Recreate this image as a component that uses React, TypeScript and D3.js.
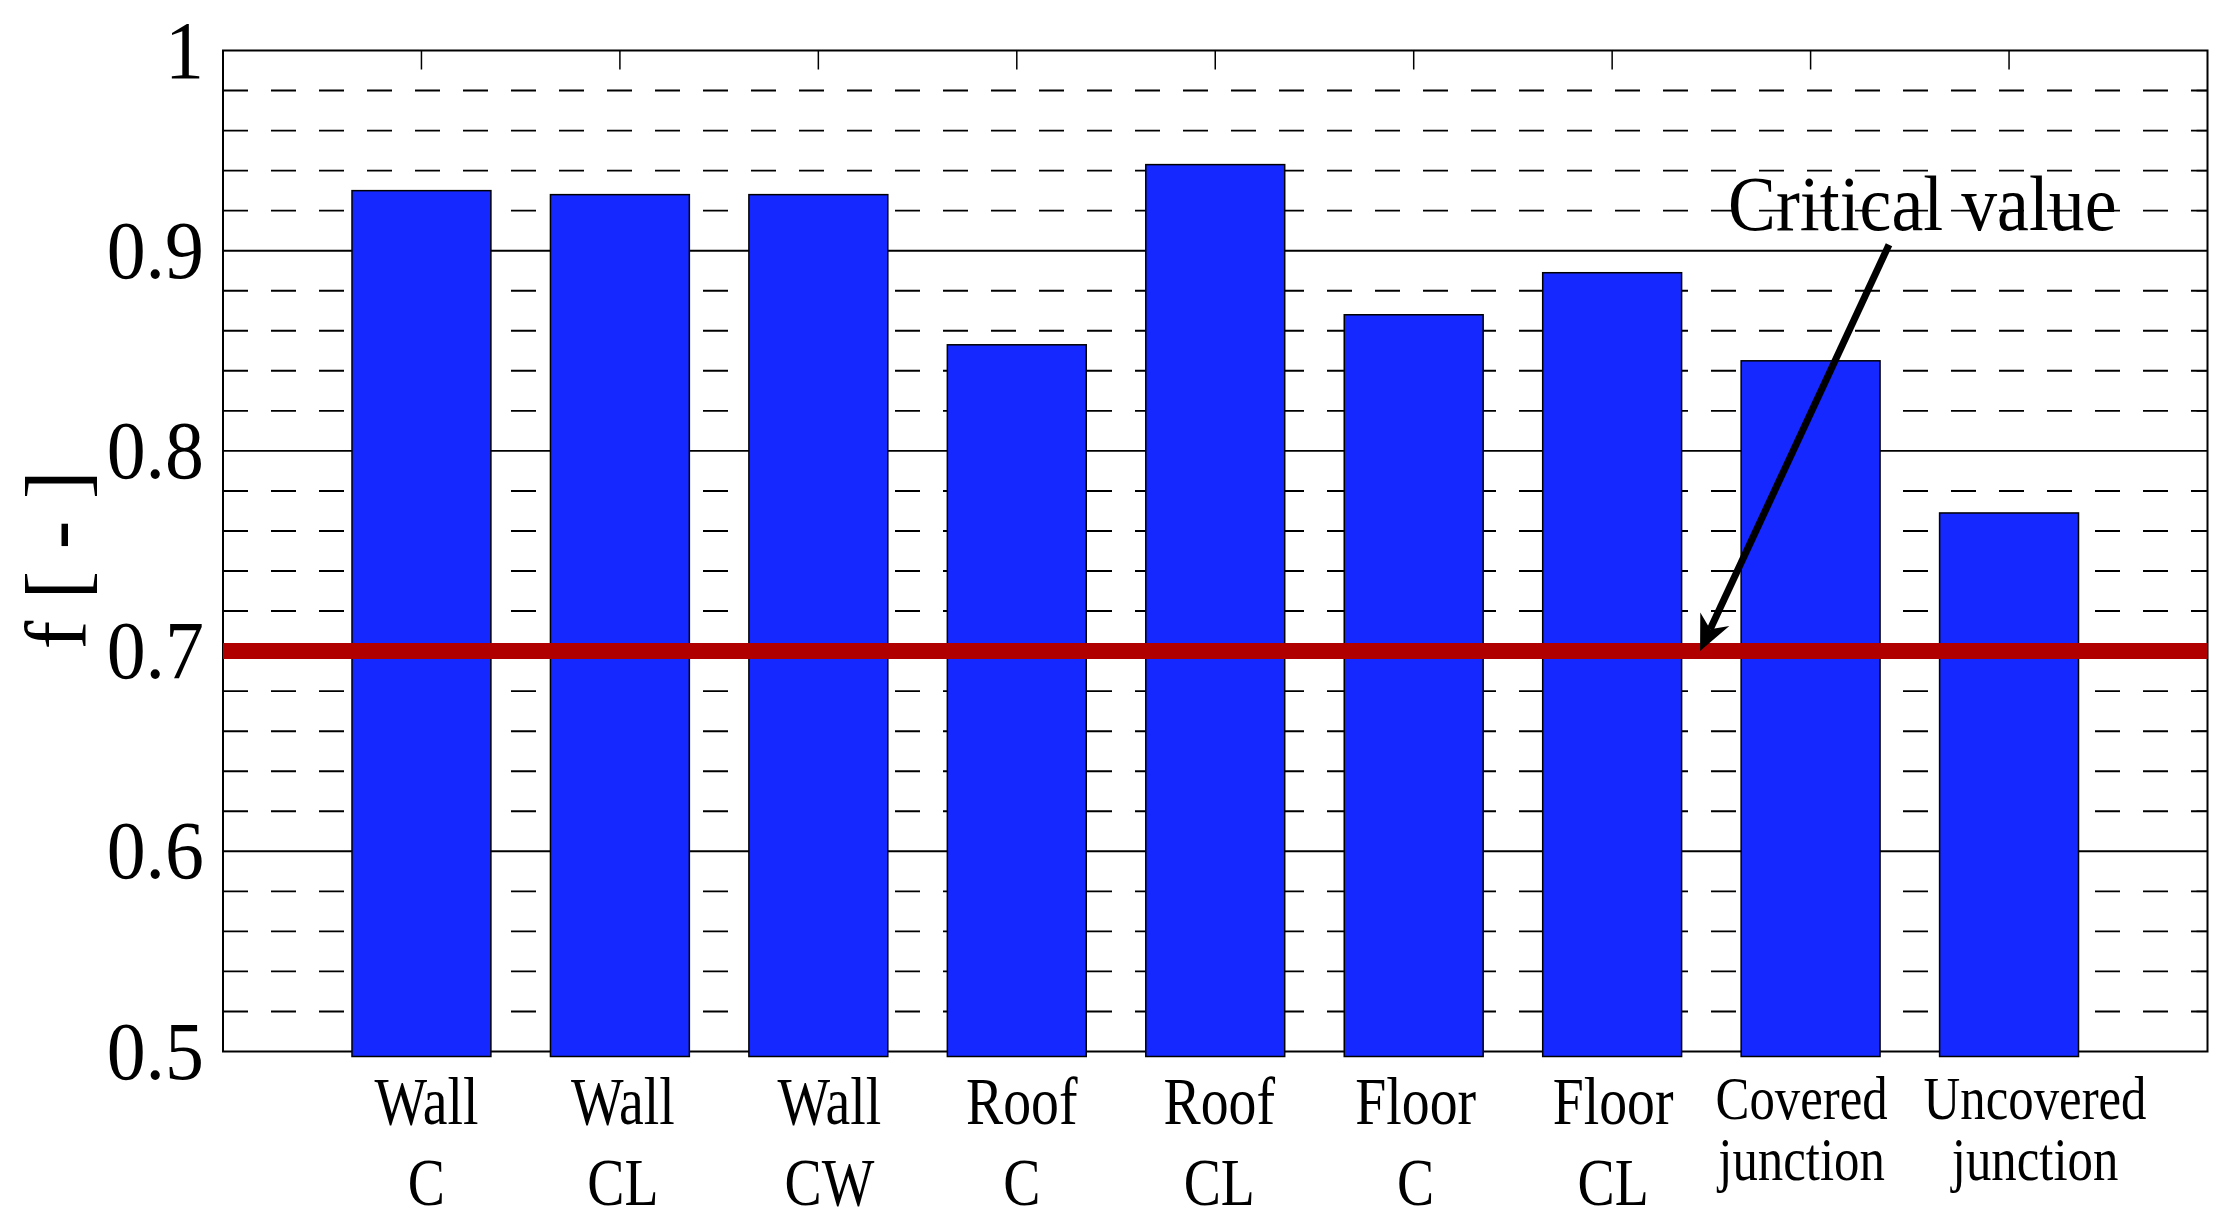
import React from "react";
import * as d3 from "d3";

// data
const categories = [
  ["Wall", "C"],
  ["Wall", "CL"],
  ["Wall", "CW"],
  ["Roof", "C"],
  ["Roof", "CL"],
  ["Floor", "C"],
  ["Floor", "CL"],
  ["Covered", "junction"],
  ["Uncovered", "junction"],
];
const fValues = [0.93, 0.928, 0.928, 0.853, 0.943, 0.868, 0.889, 0.845, 0.769];
const yTickValues = [0.5, 0.6, 0.7, 0.8, 0.9, 1];
const yTickLabels = ["0.5", "0.6", "0.7", "0.8", "0.9", "1"];
const criticalValue = 0.7;
const annotationText = "Critical value";
const yLabel = "f [ - ]";

const WIDTH = 2238;
const HEIGHT = 1225;
const MARGIN = { LEFT: 223, RIGHT: 2207.5, TOP: 50.5, BOTTOM: 1051.5 };
const FONT = "'Liberation Serif', 'Times New Roman', serif";

// small horizontal nudges of the category labels, as in the figure
const LABEL_DX = [5, 3, 11, 5, 4, 2, 1, -9, 26];

const x = d3.scaleLinear().domain([0, 10]).range([MARGIN.LEFT, MARGIN.RIGHT]);
const y = d3.scaleLinear().domain([0.5, 1]).range([MARGIN.BOTTOM, MARGIN.TOP]);

const majorGrid = [0.6, 0.7, 0.8, 0.9];
const minorGrid = d3
  .range(26, 50)
  .map(k => k / 50)
  .filter(v => !yTickValues.some(t => Math.abs(t - v) < 1e-6));

// annotation arrow, in data units
const arrowFrom = [8.395, 0.903];
const arrowTo = [7.443, 0.7];
const textAt = [7.584, 0.9103];

const Arrow = () => {
  const x0 = x(arrowFrom[0]), y0 = y(arrowFrom[1]);
  const x1 = x(arrowTo[0]), y1 = y(arrowTo[1]);
  const len = Math.hypot(x0 - x1, y0 - y1);
  const ux = (x0 - x1) / len, uy = (y0 - y1) / len;
  const px = -uy, py = ux;
  const L = 35, W = 16, N = 24;
  const head = [
    [x1, y1],
    [x1 + ux * L + px * W, y1 + uy * L + py * W],
    [x1 + ux * N, y1 + uy * N],
    [x1 + ux * L - px * W, y1 + uy * L - py * W],
  ];
  return (
    <g>
      <line x1={x0} y1={y0} x2={x1 + ux * N} y2={y1 + uy * N} stroke="#000" strokeWidth={7} />
      <polygon points={head.map(p => p.join(",")).join(" ")} fill="#000" />
    </g>
  );
};

const App = () => {
  const bw = x(0.7) - x(0);
  return (
    <svg
      width={WIDTH}
      height={HEIGHT}
      style={{ position: "absolute", left: 0, top: 0, background: "#fff" }}
      fontFamily={FONT}
    >
      <rect width={WIDTH} height={HEIGHT} fill="#fff" />

      {/* grid */}
      {minorGrid.map(v => (
        <line key={"m" + v} x1={MARGIN.LEFT} x2={MARGIN.RIGHT} y1={y(v)} y2={y(v)}
          stroke="#000" strokeWidth={1.9} strokeDasharray="25 23" />
      ))}
      {majorGrid.map(v => (
        <line key={"g" + v} x1={MARGIN.LEFT} x2={MARGIN.RIGHT} y1={y(v)} y2={y(v)}
          stroke="#000" strokeWidth={1.9} />
      ))}

      {/* right axis minor ticks */}
      {minorGrid.map(v => (
        <line key={"rt" + v} x1={MARGIN.RIGHT - 11} x2={MARGIN.RIGHT} y1={y(v)} y2={y(v)}
          stroke="#000" strokeWidth={1.5} />
      ))}

      {/* top ticks */}
      {categories.map((c, i) => (
        <line key={"tt" + i} x1={x(i + 1)} x2={x(i + 1)} y1={MARGIN.TOP} y2={MARGIN.TOP + 19}
          stroke="#000" strokeWidth={1.5} />
      ))}

      {/* box */}
      <rect x={MARGIN.LEFT} y={MARGIN.TOP} width={MARGIN.RIGHT - MARGIN.LEFT}
        height={MARGIN.BOTTOM - MARGIN.TOP} fill="none" stroke="#000" strokeWidth={2} />

      {/* bars */}
      {fValues.map((v, i) => (
        <rect key={"b" + i} x={x(i + 1) - bw / 2} y={y(v)} width={bw}
          height={MARGIN.BOTTOM + 5 - y(v)} fill="#1428ff" stroke="#000" strokeWidth={1.5} />
      ))}

      {/* critical line */}
      <line x1={MARGIN.LEFT} x2={MARGIN.RIGHT} y1={y(criticalValue)} y2={y(criticalValue)}
        stroke="#b00000" strokeWidth={16} />

      <Arrow />

      <text transform={`translate(${x(textAt[0])},${y(textAt[1])}) scale(0.92,1)`}
        fontSize={78} fill="#000">{annotationText}</text>

      {/* y tick labels */}
      {yTickValues.map((v, i) => (
        <text key={"yl" + i} transform={`translate(${MARGIN.LEFT - 19},${y(v)}) scale(0.95,1)`}
          fontSize={82} textAnchor="end" dy="0.33em" fill="#000">{yTickLabels[i]}</text>
      ))}

      {/* y label */}
      <text transform="translate(85,560) rotate(-90)" fontSize={86} textAnchor="middle" fill="#000">
        {yLabel}
      </text>

      {/* x labels */}
      {categories.map((c, i) => {
        const long = c[0].length > 5;
        const fs = long ? 62 : 68;
        const b1 = long ? 1119 : 1124;
        const b2 = long ? 1180 : 1205;
        const cx = x(i + 1) + LABEL_DX[i];
        return (
          <g key={"xl" + i} fontSize={fs} fill="#000">
            <text transform={`translate(${cx},${b1}) scale(0.82,1)`} textAnchor="middle">{c[0]}</text>
            <text transform={`translate(${cx},${b2}) scale(0.82,1)`} textAnchor="middle">{c[1]}</text>
          </g>
        );
      })}
    </svg>
  );
};

export default App;
